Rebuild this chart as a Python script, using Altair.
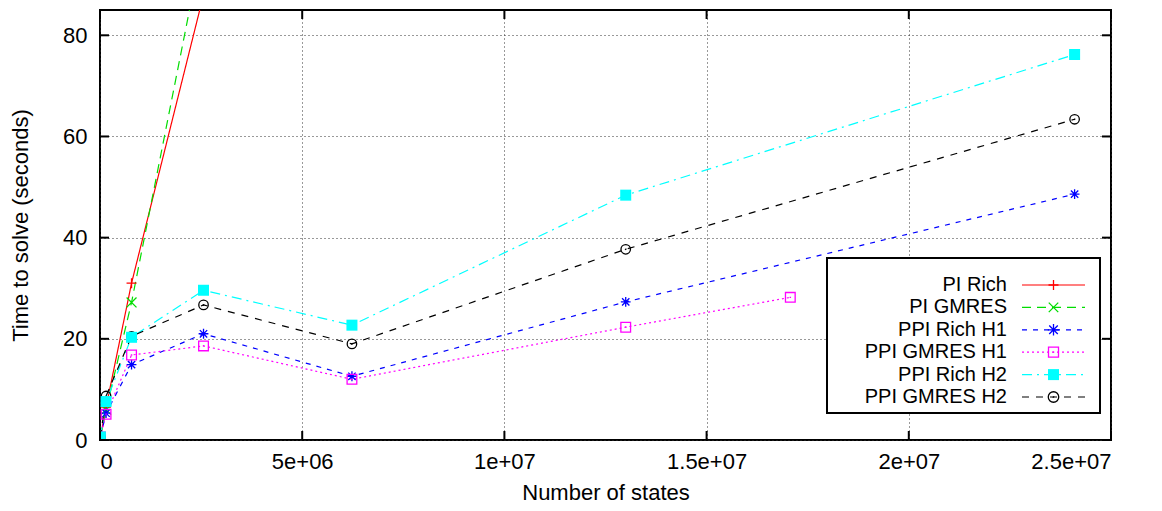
import altair as alt
import pandas as pd

# ---------------- data ----------------
states = [1.0e4, 1.5e5, 7.8e5, 2.56e6, 6.23e6, 1.30e7, 1.707e7, 2.41e7]

pi_rich      = [0.6, 6.5, 31.0, 88.0, None, None, None, None]
pi_gmres     = [0.6, 6.0, 27.2, 99.0, None, None, None, None]
ppi_rich_h1  = [0.6, 5.3, 14.9, 21.0, 12.6, 27.3, None, 48.6]
ppi_gmres_h1 = [0.6, 5.1, 16.8, 18.6, 12.0, 22.3, 28.2, None]
ppi_rich_h2  = [0.6, 7.6, 20.3, 29.6, 22.7, 48.4, None, 76.2]
ppi_gmres_h2 = [0.6, 8.7, 20.5, 26.7, 19.0, 37.7, None, 63.4]

series_names = ["PI Rich", "PI GMRES", "PPI Rich H1",
                "PPI GMRES H1", "PPI Rich H2", "PPI GMRES H2"]
series_values = [pi_rich, pi_gmres, ppi_rich_h1,
                 ppi_gmres_h1, ppi_rich_h2, ppi_gmres_h2]

x_ticks = [0, 5e6, 1e7, 1.5e7, 2e7, 2.5e7]
x_tick_labels = ["0", "5e+06", "1e+07", "1.5e+07", "2e+07", "2.5e+07"]
y_ticks = [0, 20, 40, 60, 80]

# ---------------- styles ----------------
colors = ["#ff0000", "#00dd00", "#0000ff", "#ff00ff", "#00ffff", "#000000"]
dashes = [[1, 0], [9, 6], [5, 6], [2, 3], [10, 5, 2, 5], [7, 7]]
shapes = [
    "M-1,0L1,0M0,-1L0,1",
    "M-1,-1L1,1M-1,1L1,-1",
    "M-1,0L1,0M0,-1L0,1M-0.75,-0.75L0.75,0.75M-0.75,0.75L0.75,-0.75",
    "M-1,-1L1,-1L1,1L-1,1Z M-0.15,0L0.15,0",
    "square",
    "M1,0A1,1,0,1,1,-1,0A1,1,0,1,1,1,0Z M-0.15,0.1L0.15,-0.1",
]
sizes = [100, 90, 130, 100, 121, 110]
FONT = "Liberation Sans"
FS = 22
LFS = 20
W, H = 1011, 430

rows = []
for name, vals in zip(series_names, series_values):
    for s, v in zip(states, vals):
        if v is not None:
            rows.append({"x": s, "y": v, "series": name})
df = pd.DataFrame(rows)

label_expr = ""
for v, lab in zip(x_ticks, x_tick_labels):
    label_expr += f"datum.value == {v} ? '{lab}' : "
label_expr += "''"

x_scale = alt.Scale(domain=[0, 2.5e7], nice=False, zero=False)
y_scale = alt.Scale(domain=[0, 85], nice=False, zero=False)

x_axis = alt.Axis(values=x_ticks, labelExpr=label_expr, grid=True,
                  gridDash=[1, 3], gridColor="#333333", gridWidth=1,
                  domain=False, ticks=False, labelPadding=11,
                  title="Number of states", titlePadding=10)
y_axis = alt.Axis(values=y_ticks, grid=True, gridDash=[1, 3],
                  gridColor="#333333", gridWidth=1, domain=False,
                  ticks=False, labelPadding=13,
                  title="Time to solve (seconds)", titlePadding=30)

X = lambda f="x": alt.X(f"{f}:Q", scale=x_scale, axis=x_axis)
Y = lambda f="y": alt.Y(f"{f}:Q", scale=y_scale, axis=y_axis)

color_enc = alt.Color("series:N", scale=alt.Scale(domain=series_names, range=colors), legend=None)
dash_enc = alt.StrokeDash("series:N", scale=alt.Scale(domain=series_names, range=dashes), legend=None)
shape_enc = alt.Shape("series:N", scale=alt.Scale(domain=series_names, range=shapes), legend=None)
size_enc = alt.Size("series:N", scale=alt.Scale(domain=series_names, range=sizes), legend=None)

lines = alt.Chart(df).mark_line(clip=True, strokeWidth=1.2).encode(
    x=X(), y=Y(), color=color_enc, strokeDash=dash_enc,
    detail="series:N", order="x:Q")

pts = alt.Chart(df).transform_filter(
    alt.datum.series != "PPI Rich H2").mark_point(
    clip=True, filled=False, strokeWidth=1.3, opacity=1).encode(
    x=X(), y=Y(), color=color_enc, shape=shape_enc, size=size_enc)

pts_filled = alt.Chart(df).transform_filter(
    alt.datum.series == "PPI Rich H2").mark_point(
    clip=True, filled=True, shape="square", size=121, opacity=1,
    color="#00ffff").encode(x=X(), y=Y())

# inward mirrored ticks
ydf = pd.DataFrame({"y": y_ticks})
xdf = pd.DataFrame({"x": x_ticks})
tick_l = alt.Chart(ydf).mark_rule(color="black", strokeWidth=2).encode(
    y=Y(), x=alt.value(0), x2=alt.value(9))
tick_r = alt.Chart(ydf).mark_rule(color="black", strokeWidth=2).encode(
    y=Y(), x=alt.value(W - 9), x2=alt.value(W))
tick_b = alt.Chart(xdf).mark_rule(color="black", strokeWidth=2).encode(
    x=X(), y=alt.value(H - 9), y2=alt.value(H))
tick_t = alt.Chart(xdf).mark_rule(color="black", strokeWidth=2).encode(
    x=X(), y=alt.value(0), y2=alt.value(9))

# gnuplot-style key box
dummy = pd.DataFrame({"k": [0]})
box = alt.Chart(dummy).mark_rect(fill="white", stroke="black", strokeWidth=2).encode(
    x=alt.value(727), x2=alt.value(1000), y=alt.value(248), y2=alt.value(403))

legend_layers = [box]
for i, name in enumerate(series_names):
    yy = 275 + i * 22.4
    legend_layers.append(
        alt.Chart(dummy).mark_text(align="right", baseline="middle",
                                   fontSize=LFS, font=FONT, color="black").encode(
            x=alt.value(907), y=alt.value(yy), text=alt.value(name)))
    legend_layers.append(
        alt.Chart(dummy).mark_rule(strokeWidth=1.2, color=colors[i],
                                   strokeDash=dashes[i]).encode(
            x=alt.value(922), x2=alt.value(985), y=alt.value(yy)))
    if name == "PPI Rich H2":
        mk = alt.Chart(dummy).mark_point(filled=True, shape="square", size=121,
                                         color=colors[i], opacity=1)
    else:
        mk = alt.Chart(dummy).mark_point(filled=False, shape=shapes[i], size=sizes[i],
                                         color=colors[i], strokeWidth=1.3, opacity=1)
    legend_layers.append(mk.encode(x=alt.value(953.5), y=alt.value(yy)))

chart = alt.layer(lines, pts, pts_filled, tick_l, tick_r, tick_b, tick_t,
                  *legend_layers).properties(
    width=W, height=H,
    autosize=alt.AutoSizeParams(type="none"),
    padding={"left": 92, "top": 2, "right": 43, "bottom": 66},
).configure(font=FONT).configure_axis(
    labelFont=FONT, labelFontSize=FS, labelColor="black",
    titleFont=FONT, titleFontSize=FS, titleFontWeight="normal", titleColor="black",
).configure_view(stroke="black", strokeWidth=2)

chart.save("out.html", embed_options={"renderer": "svg", "actions": False})
